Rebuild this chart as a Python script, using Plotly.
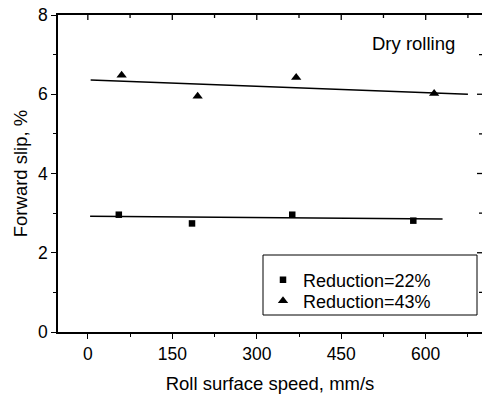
import plotly.graph_objects as go

# Data
speed_22 = [55, 185, 363, 578]
slip_22 = [2.96, 2.74, 2.96, 2.81]
speed_43 = [60, 195, 370, 615]
slip_43 = [6.48, 5.95, 6.42, 6.02]

fit_x_22 = [4, 630]
fit_y_22 = [2.92, 2.85]
fit_x_43 = [5, 675]
fit_y_43 = [6.36, 6.00]

x_ticks = [0, 150, 300, 450, 600]
y_ticks = [0, 2, 4, 6, 8]
x_range = [-53, 700]
y_range = [0, 8]

FONT = "Liberation Sans, Arial, sans-serif"

# pixel geometry of the plot area (used only for paper-coordinate placement)
L, R, T, B = 58, 482, 15, 332
W, H = R - L, B - T


def px(xp):
    return (xp - L) / W


def py(yp):
    return (B - yp) / H


def minor_of(ticks, rng):
    step = ticks[1] - ticks[0]
    vals = [t + step / 2 for t in ticks]
    return [v for v in vals if rng[0] < v < rng[1]]


x_minor = minor_of(x_ticks, x_range)
y_minor = minor_of(y_ticks, y_range)

fig = go.Figure()
fig.add_trace(go.Scatter(x=fit_x_22, y=fit_y_22, mode="lines",
                         line=dict(color="black", width=1.6), showlegend=False))
fig.add_trace(go.Scatter(x=fit_x_43, y=fit_y_43, mode="lines",
                         line=dict(color="black", width=1.6), showlegend=False))
fig.add_trace(go.Scatter(x=speed_22, y=slip_22, mode="markers", name="Reduction=22%",
                         marker=dict(symbol="square", size=6.5, color="black"),
                         legend="legend"))
fig.add_trace(go.Scatter(x=speed_43, y=slip_43, mode="markers", name="Reduction=43%",
                         marker=dict(symbol="triangle-up", size=9, color="black"),
                         legend="legend2"))

leg_common = dict(xanchor="left", yanchor="middle", borderwidth=0,
                  bgcolor="rgba(0,0,0,0)", font=dict(size=18))

# inward-pointing tick marks on the top and right edges (mirrored ticks)
tick_shapes = []
for v, ln in [(t, 5) for t in x_ticks] + [(t, 3) for t in x_minor]:
    tick_shapes.append(dict(type="line", xref="x", yref="paper", x0=v, x1=v,
                            y0=1, y1=1 - ln / H, layer="above",
                            line=dict(color="black", width=1.3)))
for v, ln in [(t, 5) for t in y_ticks[1:-1]] + [(t, 3) for t in y_minor]:
    tick_shapes.append(dict(type="line", xref="paper", yref="y", x0=1, x1=1 - ln / W,
                            y0=v, y1=v, layer="above",
                            line=dict(color="black", width=1.3)))

legend_box = dict(type="rect", xref="paper", yref="paper",
                  x0=px(263), x1=px(477), y0=py(315), y1=py(255),
                  line=dict(color="black", width=1), fillcolor="rgba(0,0,0,0)")

fig.update_layout(
    width=482, height=394,
    margin=dict(l=L, r=482 - R, t=T, b=394 - B),
    paper_bgcolor="white", plot_bgcolor="white",
    font=dict(family=FONT, color="black", size=17),
    xaxis=dict(range=x_range, tickvals=x_ticks, ticks="outside", ticklen=5,
               tickwidth=1.3, tickcolor="black", showgrid=False, zeroline=False,
               showline=True, linecolor="black", linewidth=1.5, mirror=True,
               minor=dict(tickvals=x_minor, ticks="outside", ticklen=3,
                          tickcolor="black", tickwidth=1.3),
               tickfont=dict(size=17.5),
               title=dict(text="Roll surface speed, mm/s", font=dict(size=18.5), standoff=14),
               automargin=False),
    yaxis=dict(range=y_range, tickvals=y_ticks, ticks="outside", ticklen=5,
               tickwidth=1.3, tickcolor="black", showgrid=False, zeroline=False,
               showline=True, linecolor="black", linewidth=1.5,
               minor=dict(tickvals=y_minor, ticks="outside", ticklen=3,
                          tickcolor="black", tickwidth=1.3),
               tickfont=dict(size=17.5),
               title=dict(text="Forward slip, %", font=dict(size=18.5), standoff=6),
               automargin=False),
    legend=dict(x=px(263), y=py(280), **leg_common),
    legend2=dict(x=px(263), y=py(301), **leg_common),
    shapes=tick_shapes + [legend_box],
    annotations=[dict(text="Dry rolling", x=px(457), y=py(43),
                      xref="paper", yref="paper", xanchor="right", yanchor="middle",
                      showarrow=False, font=dict(size=18.5))],
)

fig.write_html("out.html")
